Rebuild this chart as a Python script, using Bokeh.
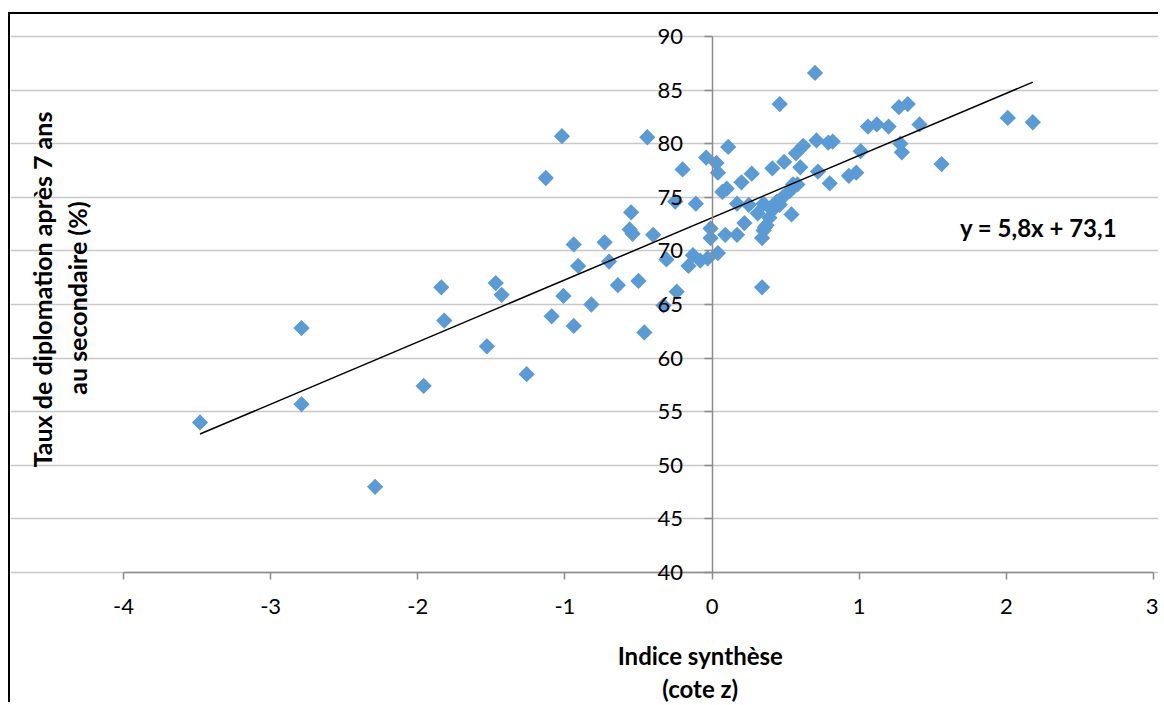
import math
from bokeh.plotting import figure
from bokeh.models import Range1d, FixedTicker, Label, ColumnDataSource
from bokeh.embed import file_html
from bokeh.resources import INLINE

# ---- data ----
indice_z = [
    -3.48, -2.79, -2.79, -2.29, -1.96, -1.84, -1.82, -1.53, -1.47, -1.43,
    -1.26, -1.13, -1.09, -1.02, -1.01, -0.94, -0.94, -0.91, -0.82, -0.73,
    -0.70, -0.64, -0.55, -0.56, -0.54, -0.50, -0.46, -0.44, -0.40, -0.33,
    -0.31, -0.24, -0.25, -0.20, -0.11, -0.13, -0.16, -0.04, 0.03, 0.04,
    0.11, 0.07, 0.10, -0.01, -0.01, -0.03, 0.04, 0.09, 0.17, 0.17,
    0.70, 0.46, 0.20, 0.27, 0.41, 0.49, 0.57, 0.62, 0.71, 0.79,
    0.82, 0.60, 0.72, 0.80, 0.93, 0.98, 1.01, 1.06, 1.12, 1.20,
    1.27, 1.33, 1.28, 1.29, 1.41, 1.56, 2.01, 2.18, 0.22, 0.25,
    0.31, 0.35, 0.37, 0.34, 0.35, 0.41, 0.44, 0.48, 0.53, 0.54,
    0.55, 0.58, 0.34, 0.46, 0.39, 0.36, -0.08,
]
taux_diplomation = [
    54.0, 62.8, 55.7, 48.0, 57.4, 66.6, 63.5, 61.1, 67.0, 65.9,
    58.5, 76.8, 63.9, 80.7, 65.8, 63.0, 70.6, 68.6, 65.0, 70.8,
    69.0, 66.8, 73.6, 72.0, 71.6, 67.2, 62.4, 80.6, 71.5, 64.9,
    69.2, 66.2, 74.6, 77.6, 74.4, 69.6, 68.6, 78.7, 78.2, 77.3,
    79.7, 75.5, 75.8, 72.1, 71.2, 69.3, 69.8, 71.5, 71.5, 74.4,
    86.6, 83.7, 76.4, 77.2, 77.7, 78.3, 79.1, 79.8, 80.3, 80.1,
    80.2, 77.8, 77.4, 76.3, 77.0, 77.3, 79.3, 81.6, 81.8, 81.6,
    83.4, 83.7, 80.0, 79.2, 81.8, 78.1, 82.4, 82.0, 72.6, 74.3,
    73.5, 74.4, 72.4, 71.2, 71.9, 73.8, 74.6, 75.0, 75.6, 73.4,
    76.2, 76.2, 66.6, 74.3, 73.1, 72.2, 69.1,
]
slope = 5.8
intercept = 73.1
equation_text = "y = 5,8x + 73,1"

x_ticks = [-4, -3, -2, -1, 0, 1, 2, 3]
x_tick_labels = ["-4", "-3", "-2", "-1", "0", "1", "2", "3"]
y_ticks = [40, 45, 50, 55, 60, 65, 70, 75, 80, 85, 90]
y_tick_labels = ["40", "45", "50", "55", "60", "65", "70", "75", "80", "85", "90"]

x_title_1 = "Indice synthèse"
x_title_2 = "(cote z)"
y_title_1 = "Taux de diplomation après 7 ans"
y_title_2 = "au secondaire (%)"

FONT = "Lato"
BLUE = "#5B9BD5"
AXIS_GREY = "#8c8c8c"
GRID_GREY = "#c8c8c8"

# The frame covers the whole canvas so that the crossing axes and the
# titles (drawn in data space) are not clipped; the data window is -4..3 x 40..90.
p = figure(
    width=1150, height=690,
    x_range=Range1d(-4.768, 3.048), y_range=Range1d(27.69, 92.05),
    output_backend="svg", toolbar_location=None,
    min_border_left=0, min_border_right=0,
    min_border_top=0, min_border_bottom=0,
)
p.styles = {"border-left": "2px solid black", "border-top": "2px solid black",
            "margin-top": "12px", "margin-left": "8px"}
p.outline_line_color = None
p.background_fill_color = "white"
p.border_fill_color = "white"

# grid
p.xgrid.visible = False
p.ygrid.ticker = FixedTicker(ticks=y_ticks)
p.ygrid.bounds = (-4, 3)
p.ygrid.grid_line_color = GRID_GREY
p.ygrid.grid_line_width = 1.5

# x axis at y = 40
xa = p.xaxis[0]
xa.fixed_location = 40
xa.bounds = (-4, 3)
xa.ticker = FixedTicker(ticks=x_ticks)
xa.major_label_overrides = {t: l for t, l in zip(x_ticks, x_tick_labels)}
xa.axis_line_color = AXIS_GREY
xa.axis_line_width = 1.5
xa.major_tick_line_color = AXIS_GREY
xa.major_tick_line_width = 1.5
xa.major_tick_in = 0
xa.major_tick_out = 7
xa.minor_tick_line_color = None
xa.major_label_standoff = 19
xa.major_label_text_font = FONT
xa.major_label_text_font_size = "22px"
xa.major_label_text_color = "black"

# y axis crossing at x = 0
ya = p.yaxis[0]
ya.fixed_location = 0
ya.bounds = (40, 90)
ya.ticker = FixedTicker(ticks=y_ticks)
ya.major_label_overrides = {t: l for t, l in zip(y_ticks, y_tick_labels)}
ya.axis_line_color = AXIS_GREY
ya.axis_line_width = 1.5
ya.major_tick_line_color = AXIS_GREY
ya.major_tick_line_width = 1.5
ya.major_tick_in = 0
ya.major_tick_out = 8
ya.minor_tick_line_color = None
ya.major_label_standoff = 21
ya.major_label_text_font = FONT
ya.major_label_text_font_size = "22px"
ya.major_label_text_color = "black"

# points
src = ColumnDataSource(dict(x=indice_z, y=taux_diplomation))
p.scatter("x", "y", source=src, marker="square", size=11.5, angle=math.pi / 4,
          fill_color=BLUE, line_color=None)

# trend line
x0, x1 = min(indice_z), max(indice_z)
p.line([x0, x1], [slope * x0 + intercept, slope * x1 + intercept],
       line_color="black", line_width=1.5)


def add_text(x, y, text, angle=0.0, align="center", size="24px"):
    p.add_layout(Label(x=x, y=y, text=text, angle=angle, text_font=FONT,
                       text_font_style="bold", text_font_size=size,
                       text_align=align, text_baseline="middle", text_color="black"))


# equation
add_text(1.685, 72.2, equation_text, align="left")
# x title (two lines)
add_text(-0.08, 32.3, x_title_1)
add_text(-0.08, 29.2, x_title_2)
# y title (two rotated lines)
add_text(-4.553, 66.4, y_title_1, angle=math.pi / 2, size="25px")
add_text(-4.316, 65.6, y_title_2, angle=math.pi / 2, size="25px")

open("out.html", "w").write(file_html(p, INLINE))
